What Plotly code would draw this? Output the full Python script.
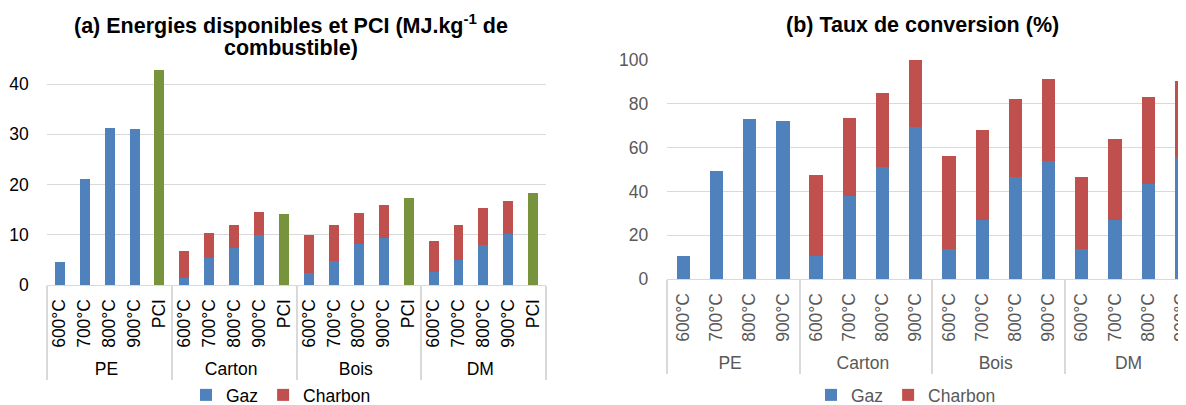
import plotly.graph_objects as go

# ---------------- data ----------------
groups = ["PE", "Carton", "Bois", "DM"]
temps = ["600°C", "700°C", "800°C", "900°C"]
pci_label = "PCI"

# (a) Energies disponibles (MJ/kg de combustible), order: PE, Carton, Bois, DM x 600..900°C
a_gaz = [4.6, 21.1, 31.3, 31.0,
         1.4, 5.4, 7.3, 9.9,
         2.3, 4.7, 8.2, 9.4,
         2.5, 5.0, 8.0, 10.2]
a_charbon = [0, 0, 0, 0,
             5.3, 5.0, 4.7, 4.6,
             7.6, 7.3, 6.2, 6.5,
             6.2, 6.9, 7.4, 6.6]
a_pci = [42.8, 14.1, 17.4, 18.4]

# (b) Taux de conversion (%)
b_gaz = [10.6, 49.3, 73.0, 72.1,
         10.3, 37.7, 51.3, 69.3,
         13.7, 26.8, 46.6, 53.7,
         13.6, 27.0, 43.4, 55.6]
b_charbon = [0, 0, 0, 0,
             37.2, 35.8, 33.5, 30.7,
             42.6, 41.4, 35.5, 37.5,
             33.2, 37.0, 39.5, 34.7]

a_title_1 = "<b>(a) Energies disponibles et PCI (MJ.kg<sup>-1</sup> de</b>"
a_title_2 = "<b>combustible)</b>"
b_title = "<b>(b) Taux de conversion (%)</b>"

C_GAZ = "#4f81bd"
C_CHAR = "#c0504d"
C_PCI = "#77933c"
FONT = "Liberation Sans, Arial, sans-serif"
FS = 17.5
TFS = 21.5

# ---------------- build x (multicategory) ----------------
xa_g, xa_s, a_gaz_full, a_char_full, a_pci_full = [], [], [], [], []
for gi, g in enumerate(groups):
    for ti, t in enumerate(temps):
        xa_g.append(g); xa_s.append(t)
        a_gaz_full.append(a_gaz[gi * 4 + ti])
        a_char_full.append(a_charbon[gi * 4 + ti])
        a_pci_full.append(None)
    xa_g.append(g); xa_s.append(pci_label)
    a_gaz_full.append(None); a_char_full.append(None); a_pci_full.append(a_pci[gi])

xb_g, xb_s = [], []
for g in groups:
    for t in temps:
        xb_g.append(g); xb_s.append(t)

W, H = 1186, 405
OFF = 8  # page body margin offset

fig = go.Figure()
line = dict(width=0)
fig.add_trace(go.Bar(x=[xa_g, xa_s], y=a_gaz_full, name="Gaz", marker=dict(color=C_GAZ, line=line),
                     xaxis="x", yaxis="y", legend="legend"))
fig.add_trace(go.Bar(x=[xa_g, xa_s], y=a_char_full, name="Charbon", marker=dict(color=C_CHAR, line=line),
                     xaxis="x", yaxis="y", legend="legend"))
fig.add_trace(go.Bar(x=[xa_g, xa_s], y=a_pci_full, name="PCI", marker=dict(color=C_PCI, line=line),
                     xaxis="x", yaxis="y", showlegend=False))
fig.add_trace(go.Bar(x=[xb_g, xb_s], y=b_gaz, name="Gaz", marker=dict(color=C_GAZ, line=line),
                     xaxis="x2", yaxis="y2", legend="legend2"))
fig.add_trace(go.Bar(x=[xb_g, xb_s], y=b_charbon, name="Charbon", marker=dict(color=C_CHAR, line=line),
                     xaxis="x2", yaxis="y2", legend="legend2"))


def fx(v):
    return min(1.0, max(0.0, (v - OFF) / W))


def fy(v):
    return 1 - (v - OFF) / H


grid = "#d9d9d9"
common_x = dict(type="multicategory", showgrid=False, showline=True, linecolor=grid, linewidth=1,
                tickangle=-90, dividercolor=grid, dividerwidth=1.5, ticks="",
                ticklabelstandoff=6, automargin=False, showdividers=True)
common_y = dict(showgrid=True, gridcolor=grid, gridwidth=1.3, zeroline=False, showline=False,
                ticks="outside", ticklen=14, tickcolor="rgba(0,0,0,0)", automargin=False)

fig.update_layout(
    width=W, height=H,
    margin=dict(l=0, r=0, t=0, b=0, autoexpand=False),
    paper_bgcolor="white", plot_bgcolor="white",
    barmode="stack", bargap=0.6,
    font=dict(family=FONT, size=FS, color="#000000"),
    xaxis=dict(domain=[fx(47.3), fx(545.7)], anchor="y", range=[-0.5, 19.5],
               tickfont=dict(size=FS, color="#000000"), **common_x),
    yaxis=dict(domain=[fy(285), fy(58.9)], range=[0, 45], anchor="x",
               tickvals=[0, 10, 20, 30, 40], tickfont=dict(size=FS, color="#000000"), **common_y),
    xaxis2=dict(domain=[fx(666.7), 1.0], anchor="y2", range=[-0.5, 15.38],
                tickfont=dict(size=FS, color="#595959"), **common_x),
    yaxis2=dict(domain=[fy(279), fy(60)], range=[0, 100], anchor="x2",
                tickvals=[0, 20, 40, 60, 80, 100], tickfont=dict(size=FS, color="#595959"), **common_y),
    legend=dict(orientation="h", x=fx(281), y=fy(395), xanchor="center", yanchor="middle",
                font=dict(size=FS, color="#000000"), itemwidth=30, tracegroupgap=0,
                bgcolor="rgba(0,0,0,0)", traceorder="normal"),
    legend2=dict(orientation="h", x=fx(906), y=fy(395), xanchor="center", yanchor="middle",
                 font=dict(size=FS, color="#595959"), itemwidth=30, tracegroupgap=0,
                 bgcolor="rgba(0,0,0,0)", traceorder="normal"),
    annotations=[
        dict(text=a_title_1, x=fx(291), y=fy(24), xref="paper", yref="paper",
             xanchor="center", yanchor="middle", showarrow=False,
             font=dict(size=TFS, color="#000000", family=FONT)),
        dict(text=a_title_2, x=fx(291), y=fy(48), xref="paper", yref="paper",
             xanchor="center", yanchor="middle", showarrow=False,
             font=dict(size=TFS, color="#000000", family=FONT)),
        dict(text=b_title, x=fx(922), y=fy(25), xref="paper", yref="paper",
             xanchor="center", yanchor="middle", showarrow=False,
             font=dict(size=TFS, color="#000000", family=FONT)),
    ],
)

fig.write_html("out.html")
